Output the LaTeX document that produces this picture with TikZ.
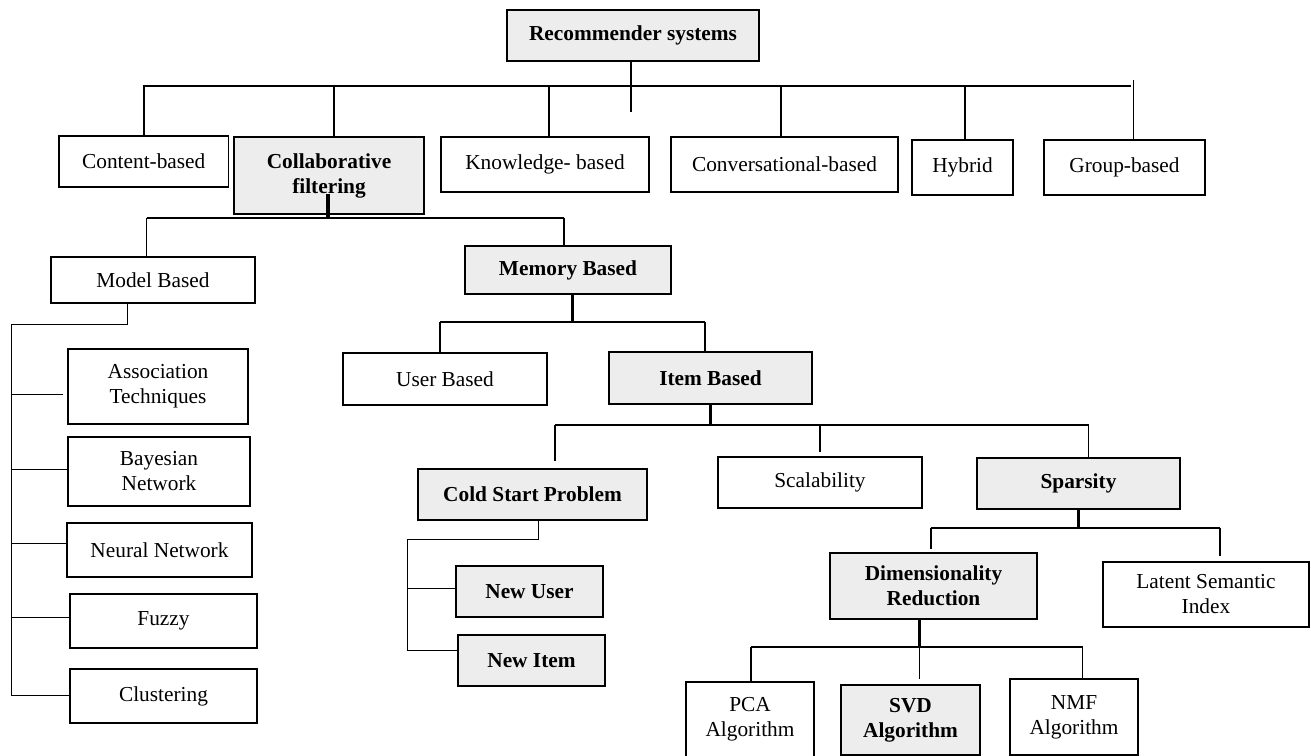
\documentclass[tikz,border=0pt]{standalone}
\usepackage{fontspec}
\setmainfont{Liberation Serif}
\usetikzlibrary{calc}
\definecolor{BoxGray}{HTML}{EDEDED}

\begin{document}
\begin{tikzpicture}[x=0.75pt,y=-0.75pt,
  box/.style={draw,line width=1.1pt,inner sep=0pt,align=center,
    font=\fontsize{16}{18.75}\selectfont},
  graybox/.style={box,fill=BoxGray,font=\fontsize{16}{18.75}\selectfont\bfseries},
  link/.style={line width=1.2pt},
  thicklink/.style={line width=2.4pt},
  thinlink/.style={line width=0.7pt}]
   \useasboundingbox (0,0) rectangle (1311,756);

   % first level
   \node[graybox,minimum width=189pt,minimum height=38.25pt] (root) at (633,35.5) {Recommender systems};
   \node[box,minimum width=127.1pt,minimum height=38.25pt] (cb) at (143.75,161.5) {Content-based};
   \node[graybox,minimum width=142.5pt,minimum height=57.75pt] (cf) at (329,175.5) {Collaborative\\filtering};
   \node[box,minimum width=156pt,minimum height=41.25pt] (kb) at (545,164.5) {Knowledge- based};
   \node[box,minimum width=170.25pt,minimum height=41.25pt] (cv) at (784.5,164.5) {Conversational-based};
   \node[box,minimum width=75.75pt,minimum height=41.25pt] (hy) at (962.5,167.5) {Hybrid};
   \node[box,minimum width=120.75pt,minimum height=41.25pt] (gb) at (1124.5,167.5) {Group-based};

   % model based branch
   \node[box,minimum width=153pt,minimum height=34.5pt] (mb) at (153,280) {Model Based};
   \node[box,minimum width=135pt,minimum height=56.25pt] (at) at (158,386.5) {Association\\Techniques};
   \node[box,minimum width=136.5pt,minimum height=51.75pt] (bn) at (159,471.5) {Bayesian\\Network};
   \node[box,minimum width=138.75pt,minimum height=40.5pt] (nn) at (159.5,550) {Neural Network};
   \node[box,minimum width=140.25pt,minimum height=40.5pt] (fz) at (163.5,621) {Fuzzy};
   \node[box,minimum width=140.25pt,minimum height=40.5pt] (cl) at (163.5,696) {Clustering};

   % memory based branch
   \node[graybox,minimum width=154.5pt,minimum height=36pt] (me) at (568,270) {Memory Based};
   \node[box,minimum width=153pt,minimum height=39pt] (ub) at (445,379) {User Based};
   \node[graybox,minimum width=152.25pt,minimum height=39pt] (ib) at (710.5,378) {Item Based};
   \node[graybox,minimum width=171.75pt,minimum height=38.25pt] (cs) at (532.5,494.5) {Cold Start Problem};
   \node[box,minimum width=153pt,minimum height=38.25pt] (sc) at (820,482.5) {Scalability};
   \node[graybox,minimum width=152.25pt,minimum height=38.25pt] (sp) at (1078.5,483.5) {Sparsity};
   \node[graybox,minimum width=110.25pt,minimum height=38.25pt] (nu) at (529.5,591.5) {New User};
   \node[graybox,minimum width=110.25pt,minimum height=38.25pt] (ni) at (531.5,660.5) {New Item};
   \node[graybox,minimum width=155.25pt,minimum height=49.5pt] (dr) at (933.5,586) {Dimensionality\\Reduction};
   \node[box,minimum width=154.5pt,minimum height=48.75pt] (lsi) at (1206,594.5) {Latent Semantic\\Index};
   \node[box,minimum width=96pt,minimum height=56.25pt] (pca) at (750,719.5) {PCA\\Algorithm};
   \node[graybox,minimum width=104.25pt,minimum height=52.5pt] (svd) at (910.5,720) {SVD\\Algorithm};
   \node[box,minimum width=96pt,minimum height=57pt] (nmf) at (1074,717) {NMF\\Algorithm};

   % root connectors
   \coordinate (barL) at (143,86);
   \coordinate (barR) at (1131,86);
   \coordinate (rootend) at ($(root.south)+(-2.3,50)$);
   \draw[link] ($(root.south)+(-2.3,0)$) -- (rootend);
   \draw[link] (barL) -- (barR);
   \draw[link] (cb.north) -- (cb.north |- barL);
   \draw[link] ($(cf.north)+(4.7,0)$) -- ($(cf.north |- barL)+(4.7,0)$);
   \draw[link] ($(kb.north)+(4,0)$) -- ($(kb.north |- barL)+(4,0)$);
   \draw[link] ($(cv.north)+(-3.5,0)$) -- ($(cv.north |- barL)+(-3.5,0)$);
   \draw[link] ($(hy.north)+(2.5,0)$) -- ($(hy.north |- barL)+(2.5,0)$);
   \draw[link] ($(gb.north)+(9,0)$) -- ($(gb.north |- barL)+(9,-6)$);

   % collaborative filtering
   \coordinate (cfbarL) at (146.5,218);
   \coordinate (cfbarR) at (564,218);
   \draw[thicklink] ($(cf.south)+(-1,-21)$) -- ($(cf.south |- cfbarL)+(-1,0)$);
   \draw[link] (cfbarL) -- (cfbarR);
   \draw[link] (cfbarL) -- (cfbarL |- mb.north);
   \draw[link] (cfbarR) -- (cfbarR |- me.north);

   % model based
   \coordinate (mbspine) at (11,324);
   \draw[thinlink] ($(mb.south)+(-26,0)$) |- (mbspine) -- ($(mbspine |- cl.west)+(0,-1)$)
     -- ($(cl.west)+(0,-1)$);
   \draw[thinlink] ($(mbspine |- at.west)+(0,7.5)$) -- ($(at.west)+(-4,7.5)$);
   \draw[thinlink] ($(mbspine |- bn.west)+(0,-2.5)$) -- ($(bn.west)+(0,-2.5)$);
   \draw[thinlink] ($(mbspine |- nn.west)+(0,-7)$) -- ($(nn.west)+(0,-7)$);
   \draw[thinlink] ($(mbspine |- fz.west)+(0,-4)$) -- ($(fz.west)+(0,-4)$);

   % memory based
   \coordinate (mebarL) at (440,322);
   \coordinate (mebarR) at (705,322);
   \draw[thicklink] ($(me.south)+(4.7,0)$) -- ($(me.south |- mebarL)+(4.7,0)$);
   \draw[link] (mebarL) -- (mebarR);
   \draw[link] (mebarL) -- (mebarL |- ub.north);
   \draw[link] (mebarR) -- (mebarR |- ib.north);

   % item based
   \coordinate (ibbarL) at (555,425);
   \coordinate (ibbarR) at (1088.5,425);
   \draw[thicklink] (ib.south) -- (ib.south |- ibbarL);
   \draw[link] (ibbarL) -- (ibbarR);
   \draw[link] (ibbarL) -- ($(ibbarL |- cs.north)+(0,-7)$);
   \draw[link] (sc.north |- ibbarL) -- ($(sc.north)+(0,-4)$);
   \draw[link] (ibbarR) -- (ibbarR |- sp.north);

   % cold start
   \coordinate (csspine) at (407.7,539);
   \draw[thinlink] ($(cs.south)+(6,0)$) |- (csspine) -- ($(csspine |- ni.west)+(0,-10.5)$)
     -- ($(ni.west)+(0,-10.5)$);
   \draw[thinlink] ($(csspine |- nu.west)+(0,-3.5)$) -- ($(nu.west)+(0,-3.5)$);

   % sparsity
   \coordinate (spbarL) at (930.7,527.7);
   \coordinate (spbarR) at (1219.7,527.7);
   \draw[thicklink] (sp.south) -- (sp.south |- spbarL);
   \draw[link] (spbarL) -- (spbarR);
   \draw[link] (spbarL) -- ($(spbarL |- dr.north)+(0,-3)$);
   \draw[link] (spbarR) -- ($(spbarR |- lsi.north)+(0,-5)$);

   % dimensionality reduction
   \coordinate (drbarL) at (751,647);
   \coordinate (drbarR) at (1082.6,647);
   \draw[thicklink] ($(dr.south)+(-14,0)$) -- ($(dr.south |- drbarL)+(-14,0)$);
   \draw[link] (drbarL) -- (drbarR);
   \draw[link] (drbarL) -- (drbarL |- pca.north);
   \draw[link] ($(svd.north |- drbarL)+(9,0)$) -- ($(svd.north)+(9,-5)$);
   \draw[link] (drbarR) -- (drbarR |- nmf.north);
\end{tikzpicture}
\end{document}
